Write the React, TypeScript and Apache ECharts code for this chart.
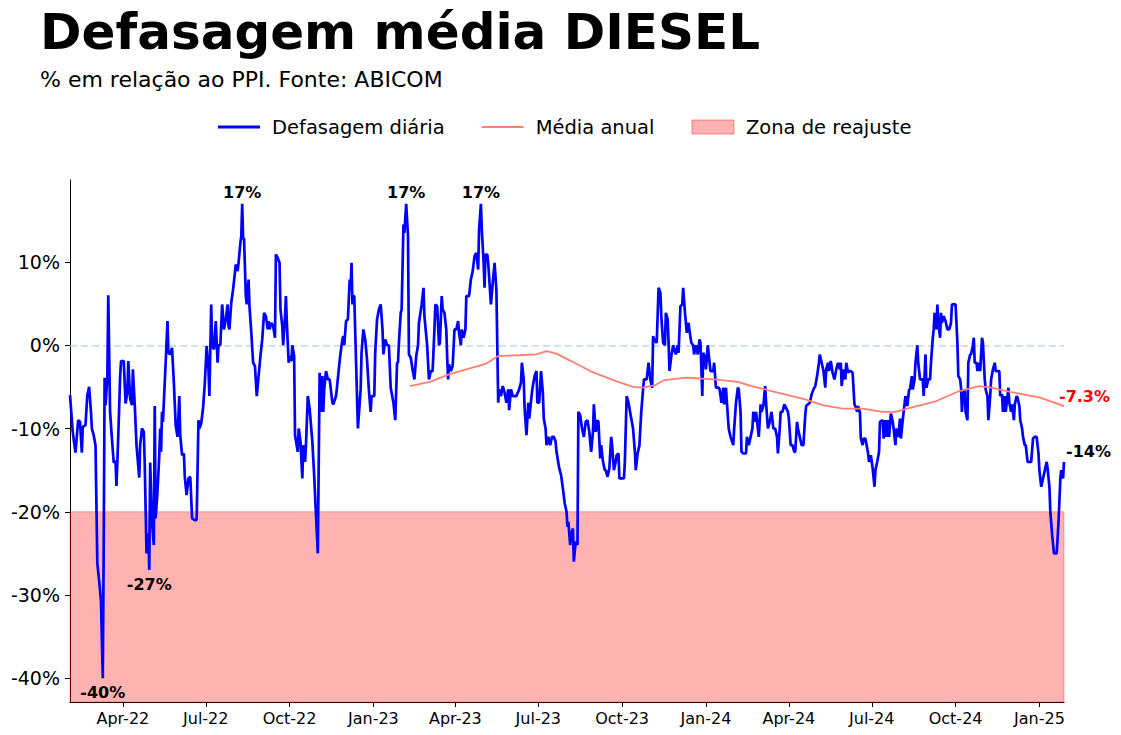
import React, { useEffect, useRef } from "react";
import * as echarts from "echarts";

// Day 0 of every series below is 1 Feb 2022 (UTC).
const BASE_DATE = Date.UTC(2022, 1, 1);
const DAY_MS = 86400000;

// Defasagem diária do diesel: [dias desde 01/02/2022, % em relação ao PPI]
const defasagemDiaria: [number, number][] = [
  [1, -6.0], [4, -10.4], [7, -12.9], [10, -9.0], [12, -9.2], [14, -12.9], [15, -9.8], [18, -9.6], [20, -6.0], [22, -5.0],
  [24, -8.0], [25, -10.0], [27, -10.8], [29, -12.0], [31, -26.2], [33, -28.3], [35, -30.7], [37, -40.0], [38, -24.2], [39, -3.9],
  [40, -7.2], [42, -3.9], [43, 6.0], [45, -8.0], [47, -11.2], [49, -14.1], [51, -13.9], [52, -16.9], [54, -10.8], [56, -3.9],
  [57, -1.9], [60, -1.9], [62, -7.0], [64, -5.6], [65, -1.9], [67, -6.4], [69, -7.2], [70, -2.9], [72, -7.0], [74, -12.0],
  [77, -15.9], [78, -12.0], [80, -10.0], [82, -10.4], [83, -14.1], [85, -25.0], [87, -22.6], [88, -27.0], [89, -14.1],
  [91, -21.2], [93, -24.0], [94, -7.3], [95, -20.8], [97, -17.6], [99, -13.2], [100, -10.0], [101, -12.8], [102, -8.0], [103, -9.2],
  [105, -4.5], [106, -2.1], [108, 2.9], [109, -0.9], [111, -1.1], [113, -0.3], [115, -4.5], [117, -9.6], [119, -11.0], [121, -6.1],
  [122, -10.8], [124, -13.2], [126, -13.0], [127, -15.8], [129, -18.0], [131, -16.0], [133, -15.8], [135, -20.8], [138, -21.0], [140, -21.0],
  [142, -9.0], [143, -10.0], [145, -9.4], [147, -7.6], [149, -4.5], [151, -0.1], [153, -2.9], [154, -6.1], [156, 4.9], [157, 0],
  [159, -0.5], [161, 2.9], [163, -2.1], [164, 0], [166, 0], [168, 4.9], [170, 1.9], [172, 3.1], [174, 4.9], [175, 2.3],
  [176, 1.9], [178, 5.1], [180, 6.7], [182, 8.7],
  [183, 9.7], [185, 8.9], [186, 9.9], [188, 12.3], [189, 13.1], [190, 17], [191, 12.7], [192, 12.9], [194, 5.9], [195, 4.9],
  [197, 7.9], [198, 4.7], [200, 1.5], [202, -2.1], [204, -2.5], [206, -6.1], [208, -3.7], [210, -1.3], [212, 0.7], [214, 3.9],
  [216, 3.5], [218, 1.9], [219, 2.9], [220, 1.9], [222, 2.7], [224, 2.3], [226, 0.9], [227, 10.9], [229, 10.5], [231, 9.9],
  [232, 4.3], [234, 2.3], [235, 0], [237, 3.5], [238, 5.9], [239, 2.7], [241, -2.1], [242, -1.3], [244, -1.9], [245, 0],
  [247, -1.3], [248, -10.8], [251, -12.8], [252, -10.0], [254, -11.6], [256, -16.0], [257, -12.0], [259, -14.0], [260, -12.0], [262, -6.1],
  [264, -7.6], [267, -11.6], [269, -15.6], [271, -20.4], [273, -25.0],
  [275, -3.3], [276, -8.0], [278, -3.7], [279, -8.0], [280, -5.3], [282, -3.1], [284, -4.1], [286, -4.1], [289, -6.9], [290, -7.1],
  [293, -6.1], [294, -5.1], [296, -2.9], [298, -0.9], [300, 0.7], [301, 1.1], [302, 0], [304, 2.9], [306, 3.1], [308, 7.9],
  [309, 6.7], [310, 9.9], [311, 4.9], [312, 5.9], [313, 5.9], [315, -2.1], [317, -10.0], [320, -5.3], [321, -0.9], [323, 1.9],
  [325, 0.7], [327, -1.7], [329, -5.3], [331, -8.0], [332, -6.1], [335, -6.1], [336, -0.9], [338, 3.1], [340, 4.3], [342, 4.9],
  [344, 1.9], [345, -1.1], [347, 0.7], [349, 0], [351, 0], [353, -5.1], [356, -6.9], [358, -9.0], [360, -2.1], [361, -2.1],
  [362, 0.3], [364, 3.9], [365, 4.3], [367, 14.5], [368, 13.5], [370, 17], [372, 13.1], [373, -1.1], [375, -1.5], [377, -2.9],
  [379, -4.1], [381, -1.3], [383, 0], [384, 2.7], [387, 4.9], [389, 6.9], [390, 3.5], [393, 0], [395, -4.1], [397, -3.1],
  [399, -3.1], [401, 1.9], [402, 4.9], [404, 4.7], [406, 0], [407, 0.3], [409, 5.9], [410, 4.3], [412, 3.9], [414, 1.9],
  [415, -1.5], [416, -4.1], [417, -2.3], [419, -3.1], [421, -2.5], [423, 1.9], [425, 1.9], [427, 2.9], [428, 1.5], [430, 0],
  [431, 1.9], [433, 0.9], [435, 1.9], [436, 5.9], [439, 5.9], [441, 7.9], [443, 8.9], [445, 10.7], [447, 11.1], [449, 9.1],
  [450, 13.9], [452, 17], [453, 13.9], [455, 9.9], [456, 6.9], [457, 10.9], [459, 10.9],
  [460, 9.9], [461, 8.3], [463, 4.9], [465, 7.5], [467, 9.9], [469, 6.7], [471, -6.9], [472, -5.3], [474, -6.1], [476, -4.9],
  [478, -5.7], [480, -6.9], [482, -5.3], [483, -7.8], [485, -5.3], [487, -6.1], [489, -6.1], [491, -6.1], [494, -5.3], [496, -4.5],
  [497, -2.1], [499, -4.1], [500, -7.6], [502, -10.8], [504, -6.9], [505, -8.8], [508, -5.7], [509, -4.9], [511, -3.7], [513, -3.1],
  [514, -6.9], [516, -6.9], [518, -3.1], [520, -5.7], [521, -8.8], [523, -10.0], [524, -12.0], [526, -11.0], [528, -12.0], [530, -11.0],
  [532, -11.0], [534, -11.6], [535, -12.8], [538, -14.8], [540, -15.6], [542, -17.2], [544, -19.0], [546, -20.0], [547, -21.8], [548, -21.2],
  [550, -24.0], [551, -22.8], [553, -22.0], [554, -26.0], [556, -23.6], [558, -24.0], [559, -8.0], [561, -8.4], [563, -10.0], [565, -11.0],
  [567, -9.2], [569, -9.0], [571, -10.4], [573, -12.8], [575, -10.4], [576, -7.1], [578, -10.4], [580, -9.0], [581, -9.2], [583, -13.6],
  [584, -12.0], [586, -14.0], [588, -15.0], [589, -15.0], [591, -15.8], [593, -14.8], [595, -11.0], [596, -12.0], [598, -15.0], [600, -14.0],
  [601, -13.2], [603, -13.0], [604, -16.0], [607, -16.0], [609, -16.0], [610, -14.0], [612, -6.1], [614, -6.9], [617, -8.8], [619, -10.0],
  [621, -12.8], [622, -15.0], [624, -13.0], [626, -12.0], [628, -8.0], [630, -5.3], [631, -4.1], [634, -4.1], [636, -2.1], [638, -4.1],
  [640, -5.1], [641, 1.1], [643, 0.5], [645, 0.3], [647, 6.9], [649, 6.3], [650, 3.5], [652, 0.3], [654, 0], [655, 3.9],
  [657, 3.1], [658, 0.3], [659, -3.1], [661, -1.3], [663, 0], [666, -1.1], [668, 0], [669, -0.9], [671, 4.7], [673, 4.9],
  [674, 6.9], [676, 3.9], [678, 1.5], [680, 2.7], [681, 1.7], [683, 0.3], [685, 0], [686, -1.1], [688, 0], [690, -1.1],
  [692, 0.7], [693, 0.3], [695, -6.1], [696, -0.9], [698, -1.5], [699, -2.9], [701, 0], [703, -2.1], [704, -3.1], [707, -3.1],
  [708, -2.1], [710, -5.1], [713, -5.1], [714, -5.3], [716, -6.9], [718, -5.1], [719, -7.1], [721, -5.1], [722, -6.9], [724, -10.0],
  [726, -11.0], [729, -12.0], [730, -10.0], [732, -6.9], [734, -5.1], [735, -5.3], [737, -8.0], [738, -12.8], [740, -13.0], [743, -13.0],
  [744, -11.0], [746, -12.0], [748, -11.0], [750, -10.0], [751, -8.0], [753, -9.2], [754, -8.0], [756, -10.0], [757, -11.0], [759, -7.1],
  [760, -8.0], [762, -7.3], [764, -4.9], [765, -6.9], [767, -10.0], [769, -9.2], [771, -8.0], [773, -10.0], [775, -10.0], [777, -11.0],
  [778, -13.0], [780, -10.0], [781, -8.0], [783, -8.0], [785, -7.1], [786, -7.3], [789, -8.0], [790, -8.8], [792, -12.0], [794, -12.0],
  [796, -12.8], [797, -12.8], [799, -9.2], [800, -10.0], [802, -11.0], [804, -12.0], [806, -12.0], [808, -8.4], [809, -7.3], [811, -7.1],
  [813, -6.9], [815, -5.9], [817, -5.3], [819, -4.9], [821, -3.7], [823, -2.1], [824, -1.1], [826, -2.1], [828, -3.1], [830, -5.1],
  [831, -2.9], [833, -2.1], [834, -3.1], [836, -1.9], [838, -3.3], [840, -4.1], [842, -2.9], [844, -2.1], [846, -2.9], [847, -2.1],
  [848, -4.9], [850, -2.9], [852, -4.1], [853, -2.1], [855, -3.3], [856, -3.1], [858, -3.1], [860, -3.3], [862, -7.1], [863, -7.3],
  [865, -8.0], [866, -7.3], [868, -8.0], [869, -11.2], [871, -12.0], [872, -11.2], [874, -11.2], [877, -13.0], [878, -14.0], [880, -13.2],
  [882, -14.8], [884, -17.0], [885, -15.0], [887, -14.0], [889, -12.8], [890, -9.2], [893, -9.0], [894, -11.2], [896, -9.0], [897, -11.0],
  [899, -9.0], [900, -11.0], [902, -8.2], [904, -9.2], [905, -10.0], [907, -12.0], [908, -10.0], [910, -11.0], [912, -8.8], [913, -11.2],
  [915, -9.0], [916, -8.0], [918, -6.1], [920, -7.3], [922, -5.3], [923, -5.3], [925, -3.7], [926, -5.3], [928, -4.1], [929, -2.1],
  [931, 0], [932, -2.1], [934, -4.1], [935, -4.1], [937, -4.1], [938, -6.1], [940, -1.1], [941, -5.1], [943, -4.1], [945, -4.1],
  [946, -2.1], [948, 0.9], [949, 1.9], [950, 3.9], [952, 1.9], [953, 4.9], [954, 2.9], [956, 0.9], [957, 3.9], [958, 2.7],
  [960, 3.5], [962, 2.9], [964, 1.9], [966, 1.9], [968, 2.7], [969, 4.9], [971, 4.9], [973, 4.9], [975, 0.3], [976, -3.7],
  [978, -4.1], [979, -5.1], [980, -8.0], [981, -6.1], [983, -5.3], [984, -8.0], [986, -9.0], [987, -2.1], [989, -1.1], [990, -1.1],
  [992, 0], [993, 0.9], [994, -2.1], [996, -2.1], [997, -3.1], [999, -2.1], [1000, -3.1], [1002, 0.9], [1003, 0.3], [1005, -4.1],
  [1006, -5.3], [1008, -6.1], [1009, -9.0], [1011, -6.1], [1012, -4.1], [1014, -2.9], [1016, -2.1], [1017, -3.1], [1019, -3.1], [1021, -3.1],
  [1022, -6.1], [1024, -5.9], [1025, -8.0], [1027, -6.1], [1028, -8.0], [1030, -6.1], [1031, -5.1], [1032, -6.9], [1034, -8.0], [1035, -7.1],
  [1037, -9.0], [1038, -7.1], [1040, -6.1], [1041, -6.3], [1043, -7.3], [1044, -9.0], [1046, -10.0], [1047, -11.0], [1049, -12.0], [1050, -12.0],
  [1052, -14.0], [1054, -14.0], [1056, -14.0], [1058, -11.2], [1060, -11.0], [1062, -11.0], [1064, -13.0], [1065, -15.0], [1067, -17.0], [1069, -16.0],
  [1071, -15.0], [1073, -14.0], [1074, -14.8], [1076, -17.0], [1077, -20.0], [1079, -22.8], [1081, -25.0], [1083, -25.0], [1084, -25.0], [1086, -21.2],
  [1088, -16.0], [1089, -15.0], [1091, -16.0], [1092, -14.0],
];

// Média móvel anual da defasagem: [dias desde 01/02/2022, %]
const mediaAnual: [number, number][] = [
  [374, -4.9], [396, -4.4], [417, -3.5], [439, -2.8], [458, -2.2], [471, -1.3], [494, -1.2], [513, -1.1], [524, -0.7], [535, -1.0],
  [551, -1.9], [572, -3.1], [586, -3.7], [605, -4.5], [619, -5.0], [630, -5.1], [643, -4.8], [653, -4.2], [678, -3.9], [708, -4.1],
  [734, -4.4], [749, -4.9], [771, -5.5], [808, -6.5], [827, -7.2], [849, -7.6], [871, -7.6], [893, -8.0], [907, -8.0], [920, -7.6],
  [952, -6.7], [977, -5.5], [999, -4.9], [1012, -5.1], [1033, -5.6], [1066, -6.3], [1092, -7.3],
];

const yTicks = [-40, -30, -20, -10, 0, 10];
const xTickMonths: [number, number][] = [
  [2022, 3], [2022, 6], [2022, 9], [2023, 0], [2023, 3], [2023, 6],
  [2023, 9], [2024, 0], [2024, 3], [2024, 6], [2024, 9], [2025, 0],
];
const monthNames = ["Jan", "Feb", "Mar", "Apr", "May", "Jun", "Jul", "Aug", "Sep", "Oct", "Nov", "Dec"];

const zonaReajusteTopo = -20;
const yRange: [number, number] = [-42.85, 19.85];
const picoDias = [190, 370, 452];
const valeDias = [37, 88];

const FONT = "DejaVu Sans";
const AZUL = "#0000ff";
const SALMAO = "#fa8072";
const dayOf = (y: number, m: number) => Math.round((Date.UTC(y, m, 1) - BASE_DATE) / DAY_MS);
const valorNoDia = (d: number) => (defasagemDiaria.find((p) => p[0] === d) as [number, number])[1];
const pct = (v: number) => `${Number.isInteger(v) ? v : v.toFixed(1)}%`;

export default function App() {
  const ref = useRef<HTMLDivElement>(null);

  useEffect(() => {
    if (!ref.current) return;
    const chart = echarts.init(ref.current, undefined, { renderer: "svg" });

    const lastDaily = defasagemDiaria[defasagemDiaria.length - 1];
    const lastMedia = mediaAnual[mediaAnual.length - 1];
    const xTickValues = xTickMonths.map(([y, m]) => dayOf(y, m));

    const annotLabel = {
      show: true,
      color: "#000",
      fontWeight: "bold" as const,
      fontSize: 16,
      fontFamily: FONT,
    };

    const marks: any[] = [
      ...picoDias.map((d) => ({
        coord: [d, valorNoDia(d)],
        label: { ...annotLabel, position: "top", distance: 3, formatter: pct(valorNoDia(d)) },
      })),
      ...valeDias.map((d) => ({
        coord: [d, valorNoDia(d)],
        label: { ...annotLabel, position: "bottom", distance: 6, formatter: pct(valorNoDia(d)) },
      })),
      {
        coord: [lastDaily[0], lastDaily[1]],
        label: { ...annotLabel, position: "right", distance: 0, offset: [2, -10], formatter: pct(lastDaily[1]) },
      },
    ];

    chart.setOption({
      animation: false,
      textStyle: { fontFamily: FONT },
      title: [
        {
          text: "Defasagem média DIESEL",
          left: 40,
          top: 7,
          padding: 0,
          textStyle: { fontSize: 50, fontWeight: "bold", color: "#000", fontFamily: FONT },
        },
        {
          text: "% em relação ao PPI. Fonte: ABICOM",
          left: 40,
          top: 68,
          padding: 0,
          textStyle: { fontSize: 22, fontWeight: "normal", color: "#000", fontFamily: FONT },
        },
      ],
      legend: {
        top: 112,
        left: 213,
        itemWidth: 42,
        itemHeight: 14,
        itemGap: 37,
        textStyle: { fontSize: 19.5, color: "#000", fontFamily: FONT, padding: [0, 0, 0, 7] },
        data: [
          { name: "Defasagem diária", icon: "path://M0 0H42V2.8H0Z", itemStyle: { color: AZUL } },
          { name: "Média anual", icon: "path://M0 0H42V2H0Z", itemStyle: { color: SALMAO } },
          {
            name: "Zona de reajuste",
            icon: "rect",
            itemStyle: { color: "rgba(255,0,0,0.3)", borderColor: "rgba(255,0,0,0.4)", borderWidth: 1 },
          },
        ],
      },
      grid: { left: 70, right: 57, top: 180, bottom: 33 },
      xAxis: {
        type: "value",
        min: defasagemDiaria[0][0],
        max: lastDaily[0],
        axisLine: { show: true, onZero: false, lineStyle: { color: "#000", width: 1 } },
        axisTick: { show: true, length: 5, lineStyle: { color: "#000" }, customValues: xTickValues },
        splitLine: { show: false },
        axisLabel: {
          customValues: xTickValues,
          fontSize: 16,
          color: "#000",
          fontFamily: FONT,
          margin: 8,
          formatter: (v: number) => {
            const d = new Date(BASE_DATE + v * DAY_MS);
            return `${monthNames[d.getUTCMonth()]}-${String(d.getUTCFullYear()).slice(2)}`;
          },
        },
      },
      yAxis: {
        type: "value",
        min: yRange[0],
        max: yRange[1],
        axisLine: { show: true, onZero: false, lineStyle: { color: "#000", width: 1 } },
        axisTick: { show: true, length: 5, lineStyle: { color: "#000" }, customValues: yTicks },
        splitLine: { show: false },
        axisLabel: {
          customValues: yTicks,
          fontSize: 19,
          color: "#000",
          fontFamily: FONT,
          margin: 10,
          formatter: (v: number) => `${v}%`,
        },
      },
      series: [
        {
          name: "Zona de reajuste",
          type: "line",
          data: [],
          symbol: "none",
          z: 1,
          markArea: {
            silent: true,
            z: 1,
            itemStyle: { color: "rgba(255,0,0,0.3)", borderColor: "rgba(255,0,0,0.3)", borderWidth: 1 },
            data: [[{ yAxis: zonaReajusteTopo }, { yAxis: yRange[0] }]],
          },
        },
        {
          name: "Defasagem diária",
          type: "line",
          data: defasagemDiaria,
          symbol: "none",
          z: 3,
          lineStyle: { color: AZUL, width: 2.7 },
          itemStyle: { color: AZUL },
          markLine: {
            silent: true,
            symbol: "none",
            z: 2,
            label: { show: false },
            lineStyle: { color: "rgba(173,206,225,0.8)", type: [7, 4], width: 1.5 },
            data: [{ yAxis: 0 }],
          },
          markPoint: {
            symbol: "circle",
            symbolSize: 0,
            silent: true,
            data: marks,
          },
        },
        {
          name: "Média anual",
          type: "line",
          data: mediaAnual,
          symbol: "none",
          z: 4,
          lineStyle: { color: SALMAO, width: 1.8 },
          itemStyle: { color: SALMAO },
          markPoint: {
            symbol: "circle",
            symbolSize: 0,
            silent: true,
            data: [
              {
                coord: [lastMedia[0], lastMedia[1]],
                label: {
                  ...annotLabel,
                  color: "#ff0000",
                  position: "right",
                  distance: 0,
                  offset: [-5, -10],
                  formatter: pct(lastMedia[1]),
                },
              },
            ],
          },
        },
      ],
    });

    return () => chart.dispose();
  }, []);

  return (
    <div
      ref={ref}
      style={{ position: "absolute", left: 0, top: 0, width: 1121, height: 735, background: "#fff" }}
    />
  );
}
